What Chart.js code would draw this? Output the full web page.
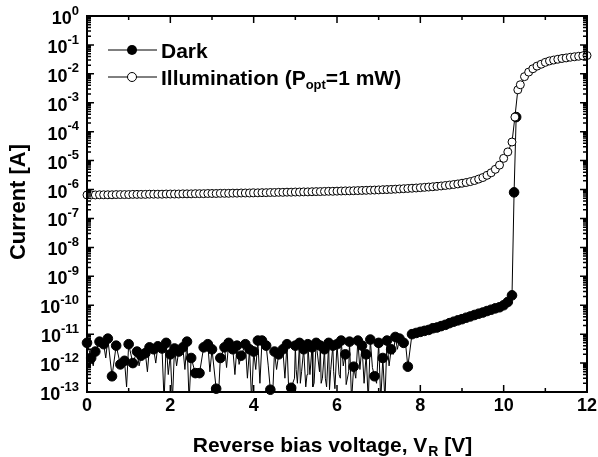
<!DOCTYPE html>
<html>
<head>
<meta charset="utf-8">
<script src="https://cdn.jsdelivr.net/npm/chart.js@4.4.1/dist/chart.umd.min.js"></script>
<style>
  html, body { margin: 0; padding: 0; background: #fff; }
  canvas { display: block; }
</style>
</head>
<body>
<canvas id="ivChart" width="598" height="457"></canvas>
<script>
// 暗電流 (Dark) - 読み取り値
var darkV = [0, 0.1, 0.2, 0.3, 0.4, 0.5, 0.6, 0.7, 0.8, 0.9,
  1.0, 1.1, 1.2, 1.3, 1.4, 1.5, 1.6, 1.7, 1.8, 1.9,
  2.0, 2.1, 2.2, 2.3, 2.4, 2.5, 2.6, 2.7, 2.8, 2.9,
  3.0, 3.1, 3.2, 3.3, 3.4, 3.5, 3.6, 3.7, 3.8, 3.9,
  4.0, 4.1, 4.2, 4.3, 4.4, 4.5, 4.6, 4.7, 4.8, 4.9,
  5.0, 5.1, 5.2, 5.3, 5.4, 5.5, 5.6, 5.7, 5.8, 5.9,
  6.0, 6.1, 6.2, 6.3, 6.4, 6.5, 6.6, 6.7, 6.8, 6.9,
  7.0, 7.1, 7.2, 7.3, 7.4, 7.5, 7.6, 7.7, 7.8, 7.9,
  8.0, 8.1, 8.2, 8.3, 8.4, 8.5, 8.6, 8.7, 8.8, 8.9,
  9.0, 9.1, 9.2, 9.3, 9.4, 9.5, 9.6, 9.7, 9.8, 9.9,
  10.0, 10.1, 10.2, 10.25, 10.3];
var darkI = [5e-12, 1.5e-12, 2.5e-12, 5.5e-12, 4.5e-12, 7e-12, 3.5e-13, 4e-12, 9e-13, 1.2e-12,
  4.5e-12, 1e-12, 2.5e-12, 1.8e-12, 2.2e-12, 3.5e-12, 3e-12, 3.8e-12, 3.2e-12, 5e-12,
  2e-12, 3.2e-12, 2.5e-12, 3.5e-12, 5.5e-12, 1.5e-12, 4.5e-13, 4.5e-13, 3.5e-12, 4.5e-12,
  3e-12, 1.3e-13, 1.5e-12, 3.5e-12, 5e-12, 3e-12, 4e-12, 1.8e-12, 4.5e-12, 3e-12,
  2.5e-12, 6e-12, 6e-12, 4e-12, 1.2e-13, 2.5e-12, 2e-12, 3e-12, 4.5e-12, 1.4e-13,
  4e-12, 5e-12, 3e-12, 4.5e-12, 3.5e-12, 5e-12, 4e-12, 3e-12, 5e-12, 4e-12,
  4.5e-12, 6e-12, 2e-12, 5.5e-12, 7.5e-13, 6e-12, 4e-12, 2e-12, 6.5e-12, 3.5e-13,
  5e-12, 1.5e-12, 6e-12, 3e-12, 8e-12, 7e-12, 5e-12, 7.5e-13, 1e-11, 1.1e-11,
  1.2e-11, 1.3e-11, 1.4e-11, 1.6e-11, 1.7e-11, 1.9e-11, 2.1e-11, 2.4e-11, 2.7e-11, 3e-11,
  3.3e-11, 3.7e-11, 4.1e-11, 4.6e-11, 5.1e-11, 5.6e-11, 6.3e-11, 7e-11, 7.8e-11, 8.5e-11,
  1e-10, 1.3e-10, 2.2e-10, 8e-7, 3.2e-4];

// 暗電流ノイズのスパイク（線のみ）
var spikeV = [0.15, 0.45, 0.95, 1.25, 1.45, 1.65, 1.85, 1.95, 2.05, 2.15,
  2.35, 2.45, 2.95, 3.15, 3.35, 3.55, 3.65, 3.85, 3.95, 4.05,
  4.15, 4.35, 4.45, 4.55, 4.75, 4.85, 4.98, 5.02, 5.05, 5.12, 5.15, 5.25, 5.28, 5.35,
  5.42, 5.45, 5.58, 5.62, 5.65, 5.72, 5.75, 5.82, 5.85, 5.92, 5.95, 6.05, 6.08, 6.15,
  6.22, 6.28, 6.35, 6.45, 6.55,
  6.65, 6.75, 6.85, 6.95, 7.05, 7.15, 7.25, 7.35, 7.45, 7.65];
var spikeI = [8e-13, 1.5e-12, 1.5e-13, 8e-13, 5e-13, 1e-12, 5e-14, 4e-13, 5e-14, 8e-13,
  6e-13, 5e-14, 5e-13, 5e-14, 7e-13, 4e-13, 9e-13, 3e-13, 5e-14, 6e-13,
  2e-13, 8e-13, 5e-14, 6e-13, 3e-13, 5e-14, 3e-13, 6e-13, 2e-13, 2e-13, 5e-13, 1.5e-13, 4e-13, 4e-13,
  1.5e-13, 2e-13, 5e-13, 2e-13, 3e-13, 3e-13, 1.5e-13, 1.2e-13, 6e-13, 5e-13, 1.3e-13, 4e-13, 3e-13, 8e-13,
  1.8e-13, 5e-13, 5e-14, 3e-13, 6e-13,
  2e-13, 5e-14, 7e-13, 2e-13, 5e-14, 5e-14, 8e-13, 2e-12, 3e-12, 4e-12];

// 光照射 (Illumination, Popt = 1 mW)
var illumV = [0, 0.1, 0.2, 0.3, 0.4, 0.5, 0.6, 0.7, 0.8, 0.9,
  1.0, 1.1, 1.2, 1.3, 1.4, 1.5, 1.6, 1.7, 1.8, 1.9,
  2.0, 2.1, 2.2, 2.3, 2.4, 2.5, 2.6, 2.7, 2.8, 2.9,
  3.0, 3.1, 3.2, 3.3, 3.4, 3.5, 3.6, 3.7, 3.8, 3.9,
  4.0, 4.1, 4.2, 4.3, 4.4, 4.5, 4.6, 4.7, 4.8, 4.9,
  5.0, 5.1, 5.2, 5.3, 5.4, 5.5, 5.6, 5.7, 5.8, 5.9,
  6.0, 6.1, 6.2, 6.3, 6.4, 6.5, 6.6, 6.7, 6.8, 6.9,
  7.0, 7.1, 7.2, 7.3, 7.4, 7.5, 7.6, 7.7, 7.8, 7.9,
  8.0, 8.1, 8.2, 8.3, 8.4, 8.5, 8.6, 8.7, 8.8, 8.9,
  9.0, 9.1, 9.2, 9.3, 9.4, 9.5, 9.6, 9.7, 9.8, 9.9,
  10.0, 10.1, 10.2, 10.27, 10.34, 10.4, 10.5, 10.6, 10.7, 10.8, 10.9,
  11.0, 11.1, 11.2, 11.3, 11.4, 11.5, 11.6, 11.7, 11.8, 11.9, 12.0];
var illumI = [6.5e-7, 6.5e-7, 6.5e-7, 6.6e-7, 6.6e-7, 6.6e-7, 6.6e-7, 6.7e-7, 6.7e-7, 6.7e-7,
  6.7e-7, 6.8e-7, 6.8e-7, 6.8e-7, 6.8e-7, 6.9e-7, 6.9e-7, 6.9e-7, 6.9e-7, 7.0e-7,
  7.0e-7, 7.0e-7, 7.0e-7, 7.1e-7, 7.1e-7, 7.1e-7, 7.2e-7, 7.2e-7, 7.2e-7, 7.3e-7,
  7.3e-7, 7.3e-7, 7.4e-7, 7.4e-7, 7.4e-7, 7.5e-7, 7.5e-7, 7.6e-7, 7.6e-7, 7.6e-7,
  7.7e-7, 7.7e-7, 7.8e-7, 7.8e-7, 7.9e-7, 7.9e-7, 8.0e-7, 8.0e-7, 8.1e-7, 8.1e-7,
  8.2e-7, 8.2e-7, 8.3e-7, 8.3e-7, 8.4e-7, 8.5e-7, 8.5e-7, 8.6e-7, 8.7e-7, 8.7e-7,
  8.8e-7, 8.9e-7, 9.0e-7, 9.0e-7, 9.1e-7, 9.2e-7, 9.3e-7, 9.4e-7, 9.5e-7, 9.6e-7,
  9.7e-7, 9.9e-7, 1.0e-6, 1.01e-6, 1.03e-6, 1.05e-6, 1.07e-6, 1.09e-6, 1.11e-6, 1.13e-6,
  1.16e-6, 1.19e-6, 1.22e-6, 1.25e-6, 1.29e-6, 1.33e-6, 1.38e-6, 1.43e-6, 1.49e-6, 1.56e-6,
  1.65e-6, 1.75e-6, 1.88e-6, 2.05e-6, 2.3e-6, 2.6e-6, 3.1e-6, 3.8e-6, 5.0e-6, 7.0e-6,
  1.2e-5, 2.0e-5, 4.4e-5, 3.2e-4, 2.8e-3, 4.2e-3, 8.0e-3, 1.15e-2, 1.5e-2, 1.85e-2, 2.15e-2,
  2.5e-2, 2.8e-2, 3.0e-2, 3.2e-2, 3.4e-2, 3.55e-2, 3.75e-2, 3.9e-2, 4.05e-2, 4.2e-2, 4.3e-2];

// 軸目盛り
var xTickValues = [0, 2, 4, 6, 8, 10, 12];
var xTickLabels = ['0', '2', '4', '6', '8', '10', '12'];
var yTickExps = [-13, -12, -11, -10, -9, -8, -7, -6, -5, -4, -3, -2, -1, 0];

var FONT = '"Liberation Sans", Arial, Helvetica, sans-serif';

function toPoints(xs, ys) {
  return xs.map(function(v, i) { return { x: v, y: ys[i] }; });
}

var darkPoints = toPoints(darkV, darkI);
var darkLinePoints = darkPoints.concat(toPoints(spikeV, spikeI)).sort(function(a, b) { return a.x - b.x; });
var illumPoints = toPoints(illumV, illumI);

// 枠・目盛り・ラベル・凡例を描画
var framePlugin = {
  id: 'frame',
  afterDraw: function(chart) {
    var ctx = chart.ctx;
    var a = chart.chartArea;
    var xs = chart.scales.x;
    var ys = chart.scales.y;
    ctx.save();
    ctx.strokeStyle = '#000';
    ctx.fillStyle = '#000';

    // 目盛り（内向き）
    ctx.lineWidth = 1.5;
    ctx.beginPath();
    for (var v = 0; v <= 12; v++) {
      var px = xs.getPixelForValue(v);
      var len = (v % 2 === 0) ? 7 : 4;
      ctx.moveTo(px, a.bottom); ctx.lineTo(px, a.bottom - len);
      ctx.moveTo(px, a.top); ctx.lineTo(px, a.top + len);
    }
    for (var e = -13; e <= 0; e++) {
      var py = ys.getPixelForValue(Math.pow(10, e));
      ctx.moveTo(a.left, py); ctx.lineTo(a.left + 7, py);
      ctx.moveTo(a.right, py); ctx.lineTo(a.right - 7, py);
      if (e < 0) {
        for (var m = 2; m <= 9; m++) {
          var pm = ys.getPixelForValue(m * Math.pow(10, e));
          ctx.moveTo(a.left, pm); ctx.lineTo(a.left + 4, pm);
          ctx.moveTo(a.right, pm); ctx.lineTo(a.right - 4, pm);
        }
      }
    }
    ctx.stroke();

    // 外枠
    ctx.lineWidth = 2;
    ctx.strokeRect(a.left, a.top, a.right - a.left, a.bottom - a.top);

    // X軸ラベル
    ctx.font = 'bold 18px ' + FONT;
    ctx.textAlign = 'center';
    ctx.textBaseline = 'middle';
    xTickValues.forEach(function(v, i) {
      ctx.fillText(xTickLabels[i], xs.getPixelForValue(v), 406);
    });

    // Y軸ラベル 10^n
    ctx.textAlign = 'left';
    yTickExps.forEach(function(e) {
      var py = ys.getPixelForValue(Math.pow(10, e));
      var expText = String(e);
      ctx.font = 'bold 13px ' + FONT;
      var ew = ctx.measureText(expText).width;
      ctx.font = 'bold 18px ' + FONT;
      var bw = ctx.measureText('10').width;
      var right = 79;
      ctx.textBaseline = 'middle';
      ctx.fillText('10', right - ew - bw, py + 3);
      ctx.font = 'bold 13px ' + FONT;
      ctx.fillText(expText, right - ew, py - 5);
    });

    // 軸タイトル
    ctx.font = 'bold 21px ' + FONT;
    ctx.textBaseline = 'alphabetic';
    var t1 = 'Reverse bias voltage, V';
    var t2 = 'R';
    var t3 = ' [V]';
    var w1 = ctx.measureText(t1).width;
    var w3 = ctx.measureText(t3).width;
    ctx.font = 'bold 14px ' + FONT;
    var w2 = ctx.measureText(t2).width;
    var x0 = 332 - (w1 + w2 + w3) / 2;
    ctx.font = 'bold 21px ' + FONT;
    ctx.fillText(t1, x0, 452);
    ctx.font = 'bold 14px ' + FONT;
    ctx.fillText(t2, x0 + w1 + 1, 456);
    ctx.font = 'bold 21px ' + FONT;
    ctx.fillText(t3, x0 + w1 + w2 + 1, 452);

    ctx.save();
    ctx.translate(19, 202);
    ctx.rotate(-Math.PI / 2);
    ctx.textAlign = 'center';
    ctx.textBaseline = 'middle';
    ctx.font = 'bold 22px ' + FONT;
    ctx.fillText('Current [A]', 0, 0);
    ctx.restore();

    // 凡例
    ctx.lineWidth = 1;
    ctx.beginPath();
    ctx.moveTo(108, 50); ctx.lineTo(157, 50);
    ctx.moveTo(108, 77); ctx.lineTo(157, 77);
    ctx.stroke();
    ctx.beginPath();
    ctx.arc(132, 50, 5, 0, Math.PI * 2);
    ctx.fill();
    ctx.beginPath();
    ctx.arc(132, 77, 4.5, 0, Math.PI * 2);
    ctx.fillStyle = '#fff';
    ctx.fill();
    ctx.stroke();
    ctx.fillStyle = '#000';

    ctx.textAlign = 'left';
    ctx.textBaseline = 'alphabetic';
    ctx.font = 'bold 21px ' + FONT;
    ctx.fillText('Dark', 161, 58);
    var l1 = 'Illumination (P';
    ctx.fillText(l1, 161, 85);
    var lw1 = ctx.measureText(l1).width;
    ctx.font = 'bold 13px ' + FONT;
    ctx.fillText('opt', 161 + lw1, 89);
    var lw2 = ctx.measureText('opt').width;
    ctx.font = 'bold 21px ' + FONT;
    ctx.fillText('=1 mW)', 161 + lw1 + lw2, 85);

    ctx.restore();
  }
};

var ctx = document.getElementById('ivChart').getContext('2d');
var ivChart = new Chart(ctx, {
  type: 'line',
  data: {
    datasets: [
      {
        label: 'Illumination (Popt=1 mW)',
        data: illumPoints,
        borderColor: '#000',
        borderWidth: 1,
        pointRadius: 4,
        pointBorderWidth: 1,
        pointBackgroundColor: '#fff',
        pointBorderColor: '#000',
        tension: 0,
        clip: false,
        order: 0
      },
      {
        label: 'Dark',
        data: darkPoints,
        showLine: false,
        pointRadius: 4.8,
        pointBorderWidth: 1,
        pointBackgroundColor: '#000',
        pointBorderColor: '#000',
        clip: false,
        order: 1
      },
      {
        label: 'Dark line',
        data: darkLinePoints,
        borderColor: '#000',
        borderWidth: 1,
        pointRadius: 0,
        tension: 0,
        order: 2
      }
    ]
  },
  options: {
    responsive: false,
    animation: false,
    events: [],
    layout: {
      autoPadding: false,
      padding: { left: 87, right: 11, top: 16, bottom: 65 }
    },
    scales: {
      x: {
        type: 'linear',
        min: 0,
        max: 12,
        grid: { display: false },
        border: { display: false },
        ticks: { display: false },
        afterFit: function(s) { s.height = 0; }
      },
      y: {
        type: 'logarithmic',
        min: 1e-13,
        max: 1,
        grid: { display: false },
        border: { display: false },
        ticks: { display: false },
        afterFit: function(s) { s.width = 0; }
      }
    },
    plugins: {
      legend: { display: false },
      tooltip: { enabled: false }
    }
  },
  plugins: [framePlugin]
});
</script>
</body>
</html>
